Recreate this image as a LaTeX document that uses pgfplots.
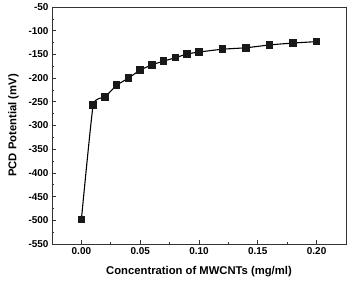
\documentclass[border=0pt]{standalone}
\usepackage{pgfplots}
\pgfplotsset{compat=1.18}
\usepackage{fontspec}
\setmainfont{Liberation Sans}
\begin{document}
\begin{tikzpicture}
\begin{axis}[
  scale only axis,
  width=294bp, height=237bp,
  xmin=-0.025, xmax=0.225,
  ymin=-550, ymax=-50,
  xtick={0,0.05,0.1,0.15,0.2},
  xticklabels={0.00,0.05,0.10,0.15,0.20},
  ytick={-550,-500,...,-50},
  minor x tick num=1,
  minor y tick num=1,
  tick align=inside,
  xtick pos=bottom, ytick pos=left,
  major tick length=4bp, minor tick length=2.5bp,
  axis line style={line width=0.8pt, black!80},
  every tick/.style={line width=0.7pt, black!80},
  tick label style={font=\fontsize{10}{12}\selectfont\bfseries},
  /pgf/number format/assume math mode=true,
  xlabel={\fontsize{11.3}{13}\selectfont\bfseries Concentration of MWCNTs (mg/ml)},
  ylabel={\fontsize{11.3}{13}\selectfont\bfseries PCD Potential (mV)},
  xlabel style={yshift=-5bp},
  ylabel style={yshift=3bp},
  scaled x ticks=false,
  clip=false,
]
\addplot[black, line width=1.1pt, smooth, tension=0.25, mark=square*, mark size=3.2bp, mark options={fill=black!90, draw=black!90}]
coordinates {
(0,-498) (0.01,-257) (0.02,-240) (0.03,-215) (0.04,-200) (0.05,-183) (0.06,-172) (0.07,-164) (0.08,-157) (0.09,-149) (0.10,-145) (0.12,-139) (0.14,-136) (0.16,-130) (0.18,-126) (0.20,-123)
};
\end{axis}
\path (-52bp,-35bp) rectangle (298bp,244bp);
\end{tikzpicture}
\end{document}
